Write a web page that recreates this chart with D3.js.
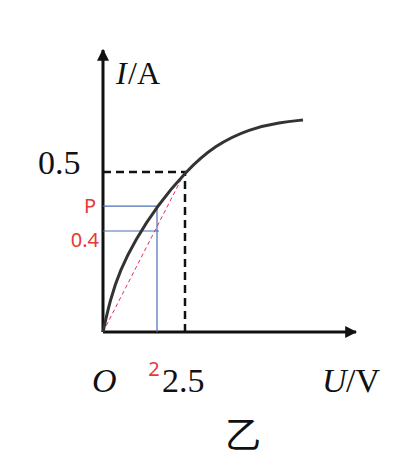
<!DOCTYPE html>
<html><head><meta charset="utf-8">
<script src="https://cdn.jsdelivr.net/npm/d3@7/dist/d3.min.js"></script>
<style>body{margin:0;background:#fff}</style></head>
<body><svg width="409" height="462"></svg>
<script>
// curve (U in V, I in A)
const curveU = [0, 0.26, 0.63, 1.19, 2, 2.5, 3.41, 4.48, 5.4, 6.1];
const curveI = [0, 0.127, 0.245, 0.364, 0.442, 0.5, 0.584, 0.635, 0.655, 0.662];
const pointP = {u: 2, i: 0.442};
const pointQ = {u: 2, i: 0.4};
const pointA = {u: 2.5, i: 0.5};

const svg = d3.select("svg");
// the sketch is not to scale, so piecewise scales
const x = d3.scaleLinear().domain([0, 2, 2.5, 6.1]).range([103, 157, 185, 303]);
const y = d3.scaleLinear().domain([0, 0.4, 0.5, 0.662]).range([332, 231, 172, 120]);

const defs = svg.append("defs");
defs.append("marker").attr("id", "ar").attr("viewBox", "0 0 10 10")
    .attr("refX", 9).attr("refY", 5).attr("markerWidth", 12).attr("markerHeight", 12)
    .attr("markerUnits", "userSpaceOnUse").attr("orient", "auto")
    .append("path").attr("d", "M0,0L10,5L0,10z").attr("fill", "#111");

// axes
svg.append("line").attr("x1", x(0)).attr("y1", y(0)).attr("x2", x(0)).attr("y2", 50)
    .attr("stroke", "#111").attr("stroke-width", 3).attr("marker-end", "url(#ar)");
svg.append("line").attr("x1", x(0)).attr("y1", y(0)).attr("x2", 356).attr("y2", y(0))
    .attr("stroke", "#111").attr("stroke-width", 3).attr("marker-end", "url(#ar)");

// black dashed guides
svg.append("path")
    .attr("d", `M${x(0)},${y(pointA.i)}H${x(pointA.u)}V${y(0)}`)
    .attr("fill", "none").attr("stroke", "#111").attr("stroke-width", 2.5)
    .attr("stroke-dasharray", "8,5");

// blue guides
svg.append("path")
    .attr("d", `M${x(0)},${y(pointP.i)}H${x(pointP.u)}M${x(0)},${y(pointQ.i)}H${x(pointQ.u) + 2}M${x(pointP.u)},${y(pointP.i)}V${y(0)}`)
    .attr("fill", "none").attr("stroke", "#4a6fb5").attr("stroke-width", 1.2);

// red dashed line O -> A
svg.append("line").attr("x1", x(0)).attr("y1", y(0)).attr("x2", x(pointA.u)).attr("y2", y(pointA.i))
    .attr("stroke", "#e0325a").attr("stroke-width", 1).attr("stroke-dasharray", "4,3");

// the curve
svg.append("path")
    .datum(curveU.map((u, k) => [u, curveI[k]]))
    .attr("d", d3.line().x(d => x(d[0])).y(d => y(d[1])).curve(d3.curveBasis))
    .attr("fill", "none").attr("stroke", "#333").attr("stroke-width", 3);

const serif = "'Liberation Serif','DejaVu Serif',serif";
const txt = (t, px, py, o) => svg.append("text").text(t).attr("x", px).attr("y", py)
    .attr("font-family", o.ff || serif).attr("font-size", o.fs).attr("fill", o.c || "#111")
    .attr("font-style", o.it ? "italic" : null).attr("text-anchor", o.a || "start");

txt("I", 116, 84, {fs: 32, it: true});
txt("/A", 128, 84, {fs: 32});
txt("0.5", 38, 174, {fs: 34});
txt("O", 92, 392, {fs: 34, it: true});
txt("2.5", 162, 392, {fs: 34});
txt("U", 322, 392, {fs: 34, it: true});
txt("/V", 346, 392, {fs: 34});
txt("P", 90, 213, {fs: 20, c: "#e53935", ff: "'Noto Sans',sans-serif", a: "middle"});
txt("0.4", 99, 247, {fs: 20, c: "#e53935", ff: "'Noto Sans',sans-serif", a: "end"});
txt("2", 154, 376, {fs: 20, c: "#e53935", ff: "'Noto Sans',sans-serif", a: "middle"});
txt("乙", 243, 448, {fs: 36, ff: "'Noto Sans CJK SC',sans-serif", a: "middle"});
</script></body></html>
